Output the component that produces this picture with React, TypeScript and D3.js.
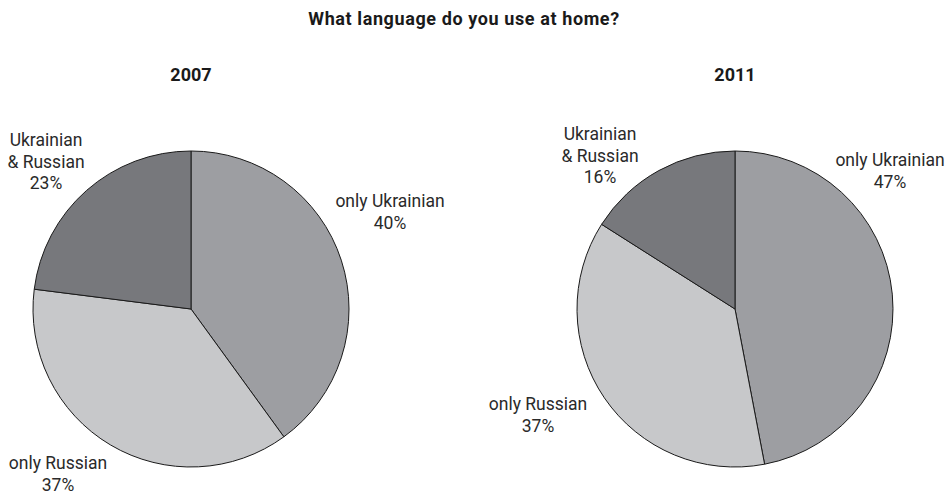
import * as d3 from 'd3'

const categories = ['only Ukrainian', 'only Russian', 'Ukrainian & Russian']
const years = ['2007', '2011']
const values2007 = [40, 37, 23]
const values2011 = [47, 37, 16]
const labelLines = [['only Ukrainian'], ['only Russian'], ['Ukrainian', '& Russian']]

const W = 952
const H = 494
const R = 158
const colors = ['#9d9ea2', '#c7c8ca', '#77787c']

// label anchor offsets from pie centre (first-line baseline), per year / category
const labelOffsets = [
  [[199, -102], [-133, 160], [-145, -163]],
  [[155, -143], [-197, 101], [-135, -169]],
]

interface Slice { cat: string; value: number; idx: number }

function Pie({ cx, cy, year, values, offsets }: { cx: number; cy: number; year: string; values: number[]; offsets: number[][] }) {
  const data: Slice[] = categories.map((c, i) => ({ cat: c, value: values[i], idx: i }))
  const arcs = d3.pie<Slice>().sort(null).value(d => d.value)(data)
  const arc = d3.arc<d3.PieArcDatum<Slice>>().innerRadius(0).outerRadius(R)
  const lh = 21.5
  return (
    <g>
      <text x={cx} y={81} textAnchor="middle" fontWeight="bold" fontSize={18} fill="#1a1a1a">{year}</text>
      <g transform={`translate(${cx},${cy})`}>
        {arcs.map(a => (
          <path key={a.data.cat} d={arc(a) ?? ''} fill={colors[a.data.idx]} stroke="#1a1a1a" strokeWidth={1} strokeLinejoin="round" />
        ))}
        {arcs.map(a => {
          const [dx, dy] = offsets[a.data.idx]
          const lines = [...labelLines[a.data.idx], `${a.data.value}%`]
          return (
            <text key={'l' + a.data.cat} x={dx} y={dy} textAnchor="middle" fontSize={17.5} fill="#2a2a2a">
              {lines.map((t, i) => (
                <tspan key={i} x={dx} y={dy + i * lh}>{t}</tspan>
              ))}
            </text>
          )
        })}
      </g>
    </g>
  )
}

export default function App() {
  const centers = d3.scalePoint<string>().domain(years).range([191, 735])
  const series = [values2007, values2011]
  return (
    <svg width={W} height={H} style={{ position: 'absolute', left: 0, top: 0, fontFamily: 'Roboto, "Liberation Sans", Arial, sans-serif' }}>
      <rect width={W} height={H} fill="#ffffff" />
      <text x={464} y={25} textAnchor="middle" fontWeight="bold" fontSize={18} letterSpacing={0.6} fill="#1a1a1a">What language do you use at home?</text>
      {years.map((y, i) => (
        <Pie key={y} cx={centers(y) ?? 0} cy={309} year={y} values={series[i]} offsets={labelOffsets[i]} />
      ))}
    </svg>
  )
}
